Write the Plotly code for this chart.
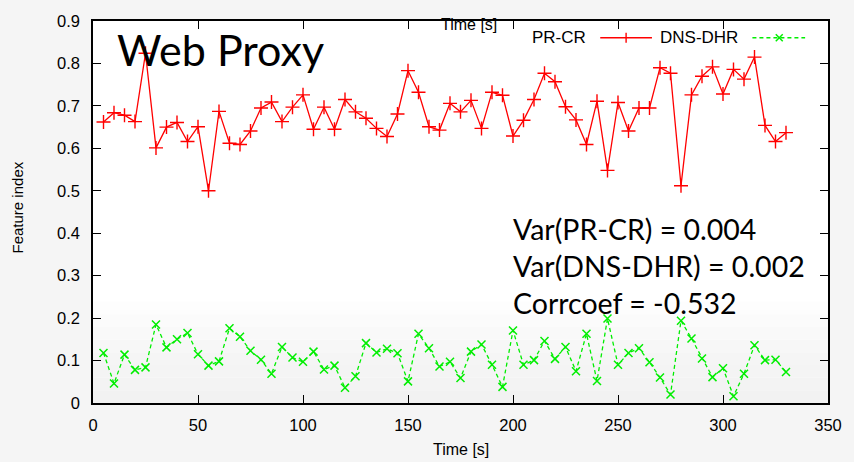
import plotly.graph_objects as go

# ---------------- data ----------------
time_s = [5 * i for i in range(1, 67)]

pr_cr = [0.662, 0.684, 0.678, 0.663, 0.824, 0.601, 0.650, 0.661, 0.616, 0.651,
         0.500, 0.687, 0.612, 0.609, 0.641, 0.695, 0.709, 0.663, 0.697, 0.726,
         0.645, 0.697, 0.645, 0.715, 0.686, 0.671, 0.647, 0.628, 0.681, 0.783,
         0.732, 0.651, 0.643, 0.706, 0.686, 0.713, 0.647, 0.732, 0.725, 0.629,
         0.666, 0.715, 0.777, 0.757, 0.698, 0.667, 0.609, 0.711, 0.548, 0.708,
         0.641, 0.695, 0.695, 0.790, 0.777, 0.512, 0.726, 0.770, 0.792, 0.728,
         0.786, 0.763, 0.815, 0.654, 0.616, 0.637]

dns_dhr = [0.118, 0.046, 0.114, 0.078, 0.084, 0.185, 0.131, 0.150, 0.165, 0.115,
           0.088, 0.098, 0.176, 0.156, 0.123, 0.102, 0.069, 0.132, 0.107, 0.097,
           0.121, 0.079, 0.088, 0.036, 0.063, 0.141, 0.119, 0.128, 0.117, 0.051,
           0.163, 0.129, 0.086, 0.097, 0.059, 0.121, 0.138, 0.090, 0.038, 0.171,
           0.090, 0.101, 0.146, 0.104, 0.132, 0.075, 0.163, 0.052, 0.199, 0.090,
           0.118, 0.129, 0.096, 0.060, 0.020, 0.194, 0.152, 0.105, 0.061, 0.082,
           0.016, 0.069, 0.136, 0.101, 0.102, 0.073]

x_ticks = [0, 50, 100, 150, 200, 250, 300, 350]
y_ticks = [0, 0.1, 0.2, 0.3, 0.4, 0.5, 0.6, 0.7, 0.8, 0.9]
y_tick_text = ["0", "0.1", "0.2", "0.3", "0.4", "0.5", "0.6", "0.7", "0.8", "0.9"]

series_names = ["PR-CR", "DNS-DHR"]
stats_lines = ["Var(PR-CR) = 0.004", "Var(DNS-DHR) = 0.002", "Corrcoef = -0.532"]
title_text = "Web Proxy"

# ---------------- layout geometry ----------------
W, H = 854, 462
L, R, T, B = 93, 832, 15, 403
PW, PH = R - L, B - T


def px(xp):
    return (xp - L) / PW


def py(yp):
    return (B - yp) / PH


RED = "#ff0000"
GREEN = "#00ee00"
TICK_FONT = dict(family="Liberation Sans, Arial, sans-serif", size=16.5, color="black")
CAL_FONT = "Lato, Carlito, Calibri, sans-serif"

fig = go.Figure()

fig.add_trace(go.Scatter(
    x=time_s, y=pr_cr, mode="lines+markers", name=series_names[0],
    line=dict(color=RED, width=1.3),
    marker=dict(symbol="cross-thin", size=10, line=dict(color=RED, width=1.4)),
    showlegend=False,
))
fig.add_trace(go.Scatter(
    x=time_s, y=dns_dhr, mode="lines+markers", name=series_names[1],
    line=dict(color=GREEN, width=1.3, dash="4px,3px"),
    marker=dict(symbol="x-thin", size=8, line=dict(color=GREEN, width=1.5)),
    showlegend=False,
))

shapes = []
# gradient at bottom of plot area
grad = ["#fdfdfd", "#fbfbfb", "#f9f9f9", "#f7f7f7", "#f5f5f5", "#f4f4f4", "#f3f3f3", "#f2f2f2"]
y_start = 300
step = (B - y_start) / len(grad)
for i, c in enumerate(grad):
    shapes.append(dict(type="rect", xref="paper", yref="paper", layer="below",
                       x0=0, x1=1, y0=py(y_start + (i + 1) * step), y1=py(y_start + i * step),
                       fillcolor=c, line=dict(width=0)))

# gnuplot-style key: text followed by sample
ly = 32
shapes.append(dict(type="line", xref="paper", yref="paper", x0=px(603), x1=px(655),
                   y0=py(ly), y1=py(ly), line=dict(color=RED, width=1.3)))
shapes.append(dict(type="line", xref="paper", yref="paper", x0=px(629), x1=px(629),
                   y0=py(ly - 5), y1=py(ly + 5), line=dict(color=RED, width=1.4)))
shapes.append(dict(type="line", xref="paper", yref="paper", x0=px(756), x1=px(809),
                   y0=py(ly), y1=py(ly), line=dict(color=GREEN, width=1.3, dash="4px,3px")))
shapes.append(dict(type="line", xref="paper", yref="paper", x0=px(779.5), x1=px(786.5),
                   y0=py(ly - 3.5), y1=py(ly + 3.5), line=dict(color=GREEN, width=1.5)))
shapes.append(dict(type="line", xref="paper", yref="paper", x0=px(779.5), x1=px(786.5),
                   y0=py(ly + 3.5), y1=py(ly - 3.5), line=dict(color=GREEN, width=1.5)))

annotations = [
    dict(text=series_names[0], x=px(591), y=py(ly), xanchor="right", yanchor="middle",
         font=dict(family=TICK_FONT["family"], size=17, color="black")),
    dict(text=series_names[1], x=px(744), y=py(ly), xanchor="right", yanchor="middle",
         font=dict(family=TICK_FONT["family"], size=17, color="black")),
    dict(text="Time [s]", x=px(471), y=py(19), xanchor="center", yanchor="middle",
         font=dict(family=TICK_FONT["family"], size=16, color="black")),
    dict(text="Time [s]", x=px(463), y=py(450), xanchor="center", yanchor="middle",
         font=dict(family=TICK_FONT["family"], size=16, color="black")),
    dict(text="Feature index", x=px(17), y=py(204), xanchor="center", yanchor="middle",
         textangle=-90, font=dict(family=TICK_FONT["family"], size=15, color="black")),
    dict(text=title_text, x=px(115), y=py(44), xanchor="left", yanchor="middle",
         font=dict(family=CAL_FONT, size=43, color="black")),
]
for i, line in enumerate(stats_lines):
    annotations.append(dict(text=line, x=px(513), y=py(226 + i * 37.5), xanchor="left",
                            yanchor="middle", font=dict(family=CAL_FONT, size=28.5, color="black")))
for a in annotations:
    a.update(xref="paper", yref="paper", showarrow=False)

axis_common = dict(
    showline=True, linecolor="black", linewidth=1.5, mirror="ticks",
    ticks="inside", ticklen=8, tickwidth=1, tickcolor="black",
    showgrid=False, zeroline=False, tickfont=TICK_FONT,
)

fig.update_layout(
    width=W, height=H, autosize=False,
    margin=dict(l=L, r=W - R, t=T, b=H - B, pad=0),
    paper_bgcolor="#f5f5f5", plot_bgcolor="white",
    xaxis=dict(range=[0, 350], tickvals=x_ticks, ticklabelstandoff=6, **axis_common),
    yaxis=dict(range=[0, 0.9], tickvals=y_ticks, ticktext=y_tick_text,
               ticklabelstandoff=8, **axis_common),
    shapes=shapes, annotations=annotations, showlegend=False,
)

fig.write_html(
    "out.html",
    config={"displayModeBar": False},
    post_script="document.body.style.margin='0';document.body.style.background='#f5f5f5';",
)
